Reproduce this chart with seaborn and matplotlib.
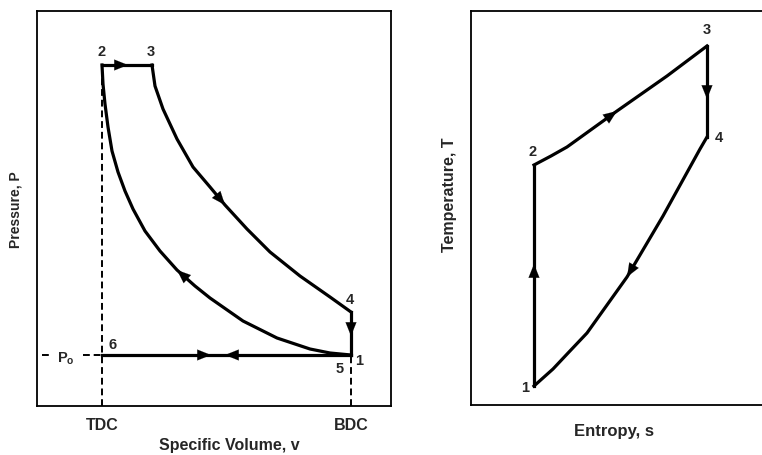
import pandas as pd
import seaborn as sns
import matplotlib.pyplot as plt

# --- P-v diagram (arbitrary units) ---
v_tdc, v_bdc = 65, 314
p_high, p_4, p_0 = 341, 94, 51
v_3 = 115

# compression 1 -> 2
comp_v = [314, 293, 273, 240, 206, 173, 158, 140, 123, 108, 96, 88, 81, 75, 71, 68, 66, 65]
comp_p = [51, 53, 57, 68, 85, 108, 120, 136, 155, 175, 197, 215, 234, 255, 279, 302, 322, 341]
# expansion 3 -> 4
exp_v = [115, 118, 126, 140, 156, 173, 188, 210, 233, 263, 293, 314]
exp_p = [341, 320, 297, 267, 239, 219, 201, 177, 154, 130, 109, 94]

# --- T-s diagram ---
s_low, s_high = 63, 236
t_1, t_2, t_3, t_4 = 19, 240, 359, 268
heat_s = [63, 80, 96, 146, 196, 236]
heat_t = [240, 249, 258, 294, 329, 359]
rej_s = [236, 229, 192, 156, 136, 116, 98, 82, 63]
rej_t = [268, 256, 189, 128, 100, 72, 53, 36, 19]

sns.set_style('white')
plt.rcParams['font.family'] = ['Liberation Sans', 'DejaVu Sans']
plt.rcParams['font.weight'] = 'bold'
plt.rcParams['mathtext.fontset'] = 'custom'
plt.rcParams['mathtext.rm'] = 'Liberation Sans:bold'

fig = plt.figure(figsize=(7.62, 4.56), dpi=100)
ax1 = fig.add_axes([37 / 762, 49 / 456, 354 / 762, 395 / 456])
ax2 = fig.add_axes([471 / 762, 50 / 456, 319 / 762, 394 / 456])

LW = 2.3
FS = 10.5


def arrow(ax, x0, y0, x1, y1):
    ax.annotate('', xy=(x1, y1), xytext=(x0, y0),
                arrowprops=dict(arrowstyle='-|>,head_length=0.75,head_width=0.3',
                                mutation_scale=13, color='k', lw=0.1,
                                shrinkA=0, shrinkB=0))


# ---------- left: P-v ----------
pv_lines = [
    pd.DataFrame({'v': comp_v, 'P': comp_p}),
    pd.DataFrame({'v': exp_v, 'P': exp_p}),
    pd.DataFrame({'v': [v_tdc, v_3], 'P': [p_high, p_high]}),
    pd.DataFrame({'v': [v_bdc, v_bdc], 'P': [p_4, p_0]}),
    pd.DataFrame({'v': [v_tdc, v_bdc], 'P': [p_0, p_0]}),
]
for d in pv_lines:
    sns.lineplot(data=d, x='v', y='P', sort=False, estimator=None, color='k',
                 lw=LW, ax=ax1, solid_capstyle='projecting',
                 solid_joinstyle='round')

dash = dict(color='k', lw=1.4, ls=(0, (3.5, 2)))
ax1.plot([v_tdc, v_tdc], [0, p_high], **dash)
ax1.plot([v_bdc, v_bdc], [0, p_0], **dash)
ax1.plot([5, 15], [p_0, p_0], **dash)
ax1.plot([46, v_tdc], [p_0, p_0], **dash)

arrow(ax1, 74, p_high, 91, p_high)
arrow(ax1, exp_v[5], exp_p[5], exp_v[6], exp_p[6])
arrow(ax1, v_bdc, 88, v_bdc, 70)
arrow(ax1, 156, p_0, 174, p_0)
arrow(ax1, 206, p_0, 188, p_0)
arrow(ax1, comp_v[6], comp_p[6], comp_v[7], comp_p[7])

pv_labels = [('2', 65, 355), ('3', 114, 355), ('4', 313, 107), ('6', 76, 62),
             ('5', 303, 38), ('1', 322, 46)]
for t, x, y in pv_labels:
    ax1.text(x, y, t, ha='center', va='center', fontsize=FS, fontweight='bold')
ax1.text(29, 48, r'P$_\mathrm{o}$', ha='center', va='center', fontsize=FS)

ax1.set_xlim(0, 354)
ax1.set_ylim(0, 395)
ax1.set_xticks([v_tdc, v_bdc])
ax1.set_xticklabels(['TDC', 'BDC'], fontsize=11.5, fontweight='bold')
ax1.set_yticks([])
ax1.tick_params(axis='x', length=0, pad=8)
ax1.set_xlabel('Specific Volume, v', fontsize=11.5, fontweight='bold')
ax1.set_ylabel('Pressure, P', fontsize=10, fontweight='bold')
ax1.xaxis.set_label_coords(0.542, -0.079)
ax1.yaxis.set_label_coords(-0.04, 0.499)

# ---------- right: T-s ----------
ts_lines = [
    pd.DataFrame({'s': [s_low, s_low], 'T': [t_1, t_2]}),
    pd.DataFrame({'s': heat_s, 'T': heat_t}),
    pd.DataFrame({'s': [s_high, s_high], 'T': [t_3, t_4]}),
    pd.DataFrame({'s': rej_s, 'T': rej_t}),
]
for d in ts_lines:
    sns.lineplot(data=d, x='s', y='T', sort=False, estimator=None, color='k',
                 lw=LW, ax=ax2, solid_capstyle='projecting',
                 solid_joinstyle='round')

arrow(ax2, s_low, 122, s_low, 141)
arrow(ax2, heat_s[2], heat_t[2], heat_s[3], heat_t[3])
arrow(ax2, s_high, 326, s_high, 306)
arrow(ax2, rej_s[2], rej_t[2], rej_s[3], rej_t[3])

ts_labels = [('1', 54, 18), ('2', 62, 254), ('3', 236, 376), ('4', 248, 268)]
for t, x, y in ts_labels:
    ax2.text(x, y, t, ha='center', va='center', fontsize=FS, fontweight='bold')

ax2.set_xlim(0, 319)
ax2.set_ylim(0, 394)
ax2.set_xticks([])
ax2.set_yticks([])
ax2.set_xlabel('Entropy, s', fontsize=12, fontweight='bold')
ax2.set_ylabel('Temperature, T', fontsize=11.5, fontweight='bold')
ax2.xaxis.set_label_coords(0.448, -0.045)
ax2.yaxis.set_label_coords(-0.045, 0.536)

for ax in (ax1, ax2):
    for sp in ax.spines.values():
        sp.set_color('k')
        sp.set_linewidth(1.3)

fig.savefig('out.png', dpi=100)
plt.close(fig)
